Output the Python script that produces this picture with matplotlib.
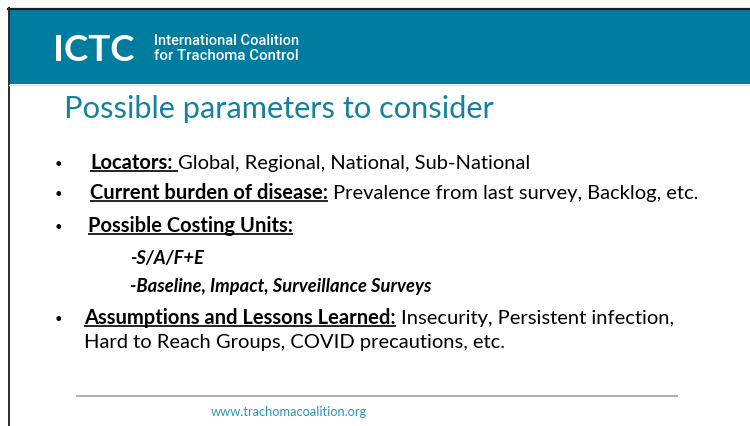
import matplotlib
matplotlib.use("Agg")
import matplotlib.pyplot as plt
from matplotlib.patches import Rectangle

W, H = 750, 427
TEAL = "#007d9e"
TITLE_TEAL = "#1580a0"
LINK = "#2d97b8"
BODY = ["Lato", "DejaVu Sans"]

# slide texts
logo = "ICTC"
logo_lines = ["International Coalition", "for Trachoma Control"]
title = "Possible parameters to consider"
bullet_heads = ["Locators:", "Current burden of disease:", "Possible Costing Units:",
                "Assumptions and Lessons Learned:"]
bullet_rest = ["Global, Regional, National, Sub-National",
               "Prevalence from last survey, Backlog, etc.",
               "",
               "Insecurity, Persistent infection,"]
continuation = "Hard to Reach Groups, COVID precautions, etc."
sub_items = ["-S/A/F+E", "-Baseline, Impact, Surveillance Surveys"]
footer = "www.trachomacoalition.org"

fig = plt.figure(figsize=(7.5, 4.27), dpi=100)
ax = fig.add_axes([0, 0, 1, 1])
ax.set_xlim(0, W)
ax.set_ylim(H, 0)
ax.set_autoscale_on(False)
ax.axis("off")
renderer = fig.canvas.get_renderer()


def wpx(t):
    return t.get_window_extent(renderer).width


def fit(x, y, s, target, **kw):
    t = ax.text(x, y, s, fontsize=20, va="baseline", **kw)
    t.set_fontsize(20 * target / wpx(t))
    return t


# frame + header banner
ax.add_patch(Rectangle((9, 10), W, 75, color=TEAL, lw=0, clip_on=False, zorder=0))
ax.plot([8, W + 5], [9.5, 9.5], color="#1c1c1c", lw=1.6, clip_on=False)
ax.plot([8.5, 8.5], [9, H + 5], color="#2a2a2a", lw=1.4, clip_on=False)
ax.plot([9, W + 5], [86, 86], color="#cfe6ee", lw=1.0, clip_on=False)

fit(53, 61, logo, 82, color="white", fontweight="bold", family=["Lato", "DejaVu Sans"])
fit(154, 45, logo_lines[0], 145, color="white", fontweight="medium", family=["Roboto", "DejaVu Sans"])
fit(154, 60, logo_lines[1], 145, color="white", fontweight="medium", family=["Roboto", "DejaVu Sans"])

fit(64, 118, title, 430, color=TITLE_TEAL, family=BODY)

# work out one body size from the widest line
tb = ax.text(0, 200, bullet_heads[1] + " ", fontsize=20, fontweight="bold", family=BODY)
tr = ax.text(0, 200, bullet_rest[1], fontsize=20, family=BODY)
size = 20 * 610 / (wpx(tb) + wpx(tr))
tb.remove()
tr.remove()

t1 = ax.text(0, 200, "a a", fontsize=size, family=BODY)
t2 = ax.text(0, 200, "aa", fontsize=size, family=BODY)
space = wpx(t1) - wpx(t2)
t1.remove()
t2.remove()


def head_line(x, y, head, rest, trail_ul=False):
    t = ax.text(x, y, head, fontsize=size, fontweight="bold", va="baseline", family=BODY)
    w = wpx(t)
    ul_end = x + w + (space if trail_ul else 0)
    ax.plot([x, ul_end], [y + 3, y + 3], color="black", lw=1.2, solid_capstyle="butt")
    if rest:
        ax.text(x + w + space, y, rest, fontsize=size, va="baseline", family=BODY)


bullet_x = 58
head_x = [90, 90, 88, 84]
head_y = [169, 199, 232, 324]
for i, (hd, rs) in enumerate(zip(bullet_heads, bullet_rest)):
    ax.text(bullet_x, head_y[i] - 5, "\u2022", fontsize=size * 0.65, va="center", ha="center", family=BODY)
    head_line(head_x[i], head_y[i], hd, rs, trail_ul=(i == 0))
ax.text(84, 348, continuation, fontsize=size, va="baseline", family=BODY)

sub_y = [264, 292]
t = fit(130, sub_y[1], sub_items[1], 300, fontweight="bold", style="italic", family=BODY)
ax.text(130, sub_y[0], sub_items[0], fontsize=t.get_fontsize(), fontweight="bold",
        style="italic", va="baseline", family=BODY)

# footer
ax.plot([77, 677], [397, 397], color="#a8a8a8", lw=1.3)
fit(211, 416, footer, 157, color=LINK, family=BODY)

fig.savefig("out.png", dpi=100)
